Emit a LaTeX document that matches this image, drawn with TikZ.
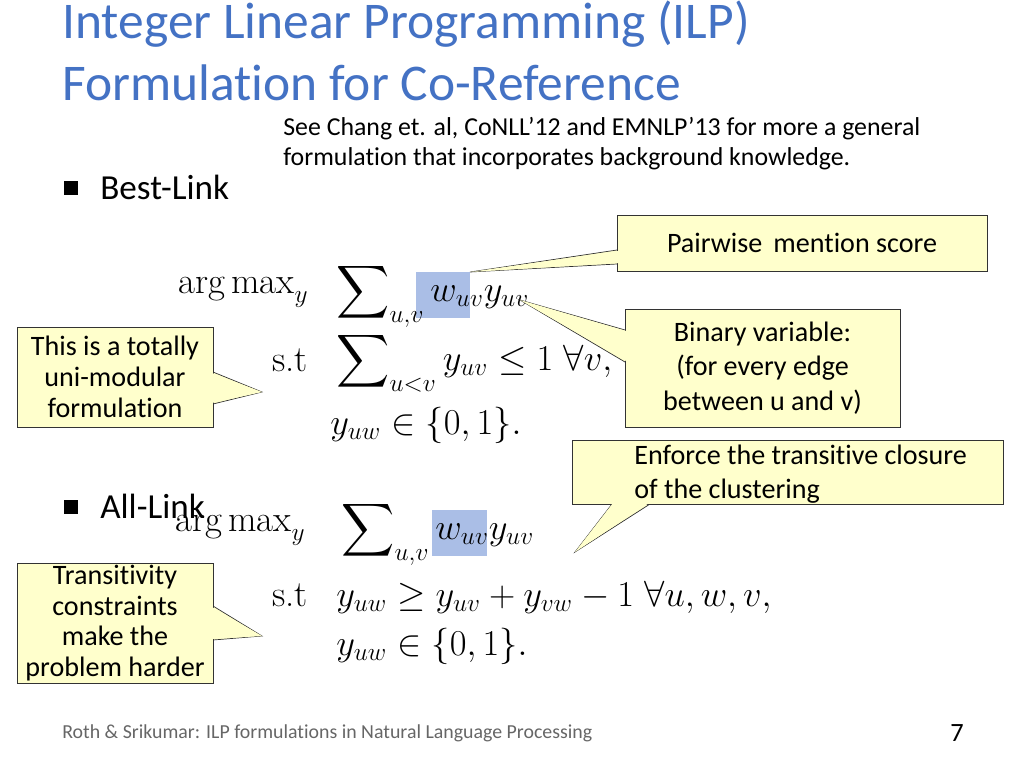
\documentclass[tikz,border=0pt]{standalone}
\usepackage{amsmath,amssymb}
\usepackage{fontspec}
\setmainfont{Carlito}[Ligatures=CommonOff]
\newfontfamily\lmrfont{Latin Modern Roman}
\usetikzlibrary{positioning}
\definecolor{titleblue}{RGB}{68,114,196}
\definecolor{noteyellow}{RGB}{255,255,204}
\definecolor{hiblue}{RGB}{170,190,230}
\tikzset{%
	callout/.style={
		draw=black!80,
		fill=noteyellow,
		align=center,
		inner sep=0pt,
		font=\fontsize{16}{17.5}\selectfont
	},
	pointer/.style={
		draw=black!80,
		fill=noteyellow
	},
	mathbit/.style={
		anchor=west,
		inner sep=0pt,
		font=\fontsize{21}{25}\selectfont
	},
}
\newcommand{\bulletsq}{\rule{8.5pt}{8.5pt}}
\newcommand{\argmaxy}{\mathop{\text{\lmrfont arg\,max}}\nolimits_y}
\newcommand{\stword}{\text{\lmrfont s.t}}
\begin{document}
\begin{tikzpicture}[x=0.02cm,y=-0.02cm]
			\useasboundingbox (0,0) rectangle (1024,768);
			
			% Title and note
			\node[anchor=west,text=titleblue,font=\fontsize{29.3}{34}\selectfont,inner sep=0pt] (title1) at (62,24) {Integer Linear Programming (ILP)};
			\node[anchor=west,text=titleblue,font=\fontsize{29.3}{34}\selectfont,inner sep=0pt] (title2) at (62,83) {Formulation for Co-Reference};
			\node[anchor=west,font=\fontsize{14.7}{19}\selectfont,inner sep=0pt] (note1) at (283,129) {See Chang et. al, CoNLL’12 and EMNLP’13 for more a general};
			\node[anchor=west,font=\fontsize{14.7}{19}\selectfont,inner sep=0pt] (note2) at (283,159) {formulation that incorporates background knowledge.};
			
			% Bullets
			\node[inner sep=0pt] (sq1) at (71,188) {\bulletsq};
			\node[anchor=west,font=\fontsize{20}{24}\selectfont,inner sep=0pt] (best) at (100,187) {Best-Link};
			\node[inner sep=0pt] (sq2) at (71,507) {\bulletsq};
			\node[anchor=west,font=\fontsize{20}{24}\selectfont,inner sep=0pt] (all) at (100,506) {All-Link};
			
			% Best-Link formulation
			\fill[hiblue] (416,272) rectangle (470,318);
			\node[mathbit] (argmax1) at (178,292) {$\argmaxy$};
			\node[mathbit] (obj1) at (336,295) {$\displaystyle\sum\nolimits_{u,v} w_{uv} y_{uv}$};
			\node[mathbit] (st1) at (272,360) {$\stword$};
			\node[mathbit] (con1) at (336,362) {$\displaystyle\sum\nolimits_{u<v} y_{uv} \leq 1 \;\forall v,$};
			\node[mathbit] (dom1) at (330,425) {$y_{uw} \in \{0,1\}.$};
			
			% All-Link formulation
			\fill[hiblue] (432,510) rectangle (487,556);
			\node[mathbit] (argmax2) at (175,530) {$\argmaxy$};
			\node[mathbit] (obj2) at (341,533) {$\displaystyle\sum\nolimits_{u,v} w_{uv} y_{uv}$};
			\node[mathbit] (st2) at (272,595) {$\stword$};
			\node[mathbit] (con2) at (336,597) {$y_{uw} \geq y_{uv} + y_{vw} - 1 \;\forall u,w,v,$};
			\node[mathbit] (dom2) at (336,646) {$y_{uw} \in \{0,1\}.$};
			
			% Callouts
			\coordinate (tipscore) at (470,272);
			\coordinate (tipbinary) at (520,300);
			\coordinate (tipunimod) at (262,392);
			\coordinate (tipclosure) at (575,552);
			\coordinate (tiptrans) at (262,636);
			
			\draw[pointer] (617,250) -- (tipscore) -- (617,264);
			\draw[pointer] (625,330) -- (tipbinary) -- (625,362);
			\draw[pointer] (213,372) -- (tipunimod) -- (213,404);
			\draw[pointer] (612,504) -- (tipclosure) -- (650,504);
			\draw[pointer] (213,606) -- (tiptrans) -- (213,640);
			
			\node[callout,minimum width=7.4cm,minimum height=1.12cm] (score) at (802,243) {Pairwise\, mention score};
			\node[callout,font=\fontsize{16}{19.5}\selectfont,minimum width=5.5cm,minimum height=2.36cm] (binary) at (762.5,368) {Binary variable:\\ (for every edge\\ between u and v)};
			\node[callout,minimum width=3.92cm,minimum height=2cm] (unimod) at (115,377) {This is a totally\\ uni-modular\\ formulation};
			\node[callout,minimum width=8.62cm,minimum height=1.28cm] (closure) at (787.5,472) {};
			\node[anchor=north west,align=left,inner sep=0pt,font=\fontsize{16}{19}\selectfont] (closuretext) at (634,445) {Enforce the transitive closure\\ of the clustering};
			\node[callout,minimum width=3.92cm,minimum height=2.4cm] (trans) at (115,623) {Transitivity\\ constraints\\ make the\\ problem harder};
			
			% cover the box edges under the pointers
			\fill[noteyellow] (618,251) -- (tipscore) -- (618,263) -- cycle;
			\fill[noteyellow] (626,331) -- (tipbinary) -- (626,361) -- cycle;
			\fill[noteyellow] (212,373) -- (tipunimod) -- (212,403) -- cycle;
			\fill[noteyellow] (613,503) -- (tipclosure) -- (649,503) -- cycle;
			\fill[noteyellow] (212,607) -- (tiptrans) -- (212,639) -- cycle;
			
			% Footer
			\node[anchor=west,text=black!60,font=\fontsize{11.3}{14}\selectfont,inner sep=0pt] (footer) at (62,733) {Roth \& Srikumar: ILP formulations in Natural Language Processing};
			\node[font=\fontsize{15}{18}\selectfont,inner sep=0pt] (page) at (957,733) {7};
		\end{tikzpicture}
\end{document}
